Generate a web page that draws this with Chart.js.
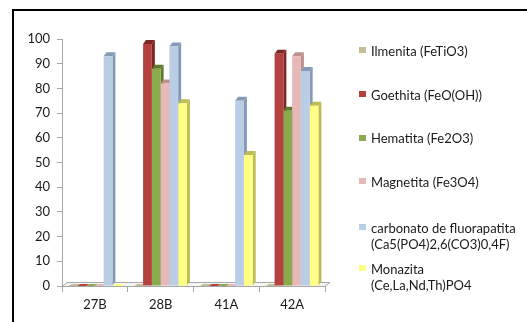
<!DOCTYPE html>
<html>
<head>
<meta charset="utf-8">
<script src="https://cdn.jsdelivr.net/npm/chart.js@4.4.0/dist/chart.umd.min.js"></script>
<style>
  html, body { margin: 0; padding: 0; background: #fff; overflow: hidden; }
  #wrap { position: relative; width: 527px; height: 322px; }
</style>
</head>
<body>
<div id="wrap"><canvas id="c" width="527" height="322"></canvas></div>
<script>
// Samples and mineral contents (%)
const categories = ['27B', '28B', '41A', '42A'];
const ilmenita   = [0, 0, 0, 0];
const goethita   = [0, 98, 0, 94];
const hematita   = [0, 88, 0, 71];
const magnetita  = [0, 82, 0, 93];
const carbonato  = [93, 97, 75, 87];
const monazita   = [0, 74, 53, 73];
const yTicks     = [0, 10, 20, 30, 40, 50, 60, 70, 80, 90, 100];

const seriesNames = [
  ['Ilmenita (FeTiO3)'],
  ['Goethita (FeO(OH))'],
  ['Hematita (Fe2O3)'],
  ['Magnetita (Fe3O4)'],
  ['carbonato de fluorapatita', '(Ca5(PO4)2,6(CO3)0,4F)'],
  ['Monazita', '(Ce,La,Nd,Th)PO4']
];
const seriesValues = [ilmenita, goethita, hematita, magnetita, carbonato, monazita];

// front face / side & top face colours
const palette = [
  { front: '#C4BD97', shade: '#958C62' },
  { front: '#B5413F', shade: '#7E2624' },
  { front: '#8BAA4D', shade: '#5E7A2C' },
  { front: '#E6B9B8', shade: '#BD8F8E' },
  { front: '#B9CDE5', shade: '#8399B6' },
  { front: '#FFFF85', shade: '#BDBD55' }
];

const FONT = 'Lato, "Liberation Sans", sans-serif';
const TEXT = '#1a1a1a';
const AXIS = '#A6A6A6';
const depth = { dx: 3, dy: 4 };

// outer frame
const frame = {
  id: 'frame',
  beforeDraw(chart) {
    const ctx = chart.ctx;
    ctx.save();
    ctx.fillStyle = '#fff';
    ctx.fillRect(0, 0, chart.width, chart.height);
    ctx.strokeStyle = '#000';
    ctx.lineWidth = 2;
    ctx.strokeRect(13, 10, 600, 400);
    ctx.restore();
  }
};

function poly(ctx, pts) {
  ctx.beginPath();
  ctx.moveTo(pts[0][0], pts[0][1]);
  for (let i = 1; i < pts.length; i++) ctx.lineTo(pts[i][0], pts[i][1]);
  ctx.closePath();
  ctx.fill();
}

// floor, plus side and top faces giving the columns depth
const faces = {
  id: 'faces',
  beforeDatasetsDraw(chart) {
    const ctx = chart.ctx;
    const a = chart.chartArea;
    const { dx, dy } = depth;
    ctx.save();
    ctx.fillStyle = '#F4F4F4';
    ctx.strokeStyle = AXIS;
    ctx.lineWidth = 1;
    ctx.beginPath();
    ctx.moveTo(a.left, a.bottom + 0.5);
    ctx.lineTo(a.left + dx + 2, a.bottom - dy + 0.5);
    ctx.lineTo(a.right + dx + 2, a.bottom - dy + 0.5);
    ctx.lineTo(a.right, a.bottom + 0.5);
    ctx.closePath();
    ctx.fill();
    ctx.stroke();

    const bars = [];
    chart.data.datasets.forEach((ds, i) => {
      chart.getDatasetMeta(i).data.forEach(el => {
        const p = el.getProps(['x', 'y', 'base', 'width'], true);
        bars.push({ p, c: palette[i] });
      });
    });
    bars.forEach(({ p, c }) => {
      if (p.base - p.y < 0.5) return;
      const r = p.x + p.width / 2;
      ctx.fillStyle = c.shade;
      poly(ctx, [[r, p.y], [r + dx, p.y - dy], [r + dx, p.base - dy], [r, p.base]]);
    });
    bars.forEach(({ p, c }) => {
      const l = p.x - p.width / 2, r = p.x + p.width / 2;
      const flat = p.base - p.y < 0.5;
      // columns at zero only leave a thin coloured patch on the floor
      ctx.fillStyle = flat ? c.front : c.shade;
      const h = flat ? 2 : dy;
      poly(ctx, [[l, p.y], [l + dx, p.y - h], [r + dx, p.y - h], [r, p.y]]);
    });
    ctx.restore();
  }
};

// legend at the right
const sideLegend = {
  id: 'sideLegend',
  afterDraw(chart) {
    const ctx = chart.ctx;
    const boxX = 359, textX = 371, box = 7, lineH = 16;
    const rowY = [50.5, 94.5, 138, 181.5, 227.5, 268.5];
    ctx.save();
    ctx.font = '13px ' + FONT;
    ctx.textBaseline = 'middle';
    ctx.textAlign = 'left';
    seriesNames.forEach((lines, i) => {
      const y = rowY[i];
      ctx.fillStyle = palette[i].front;
      ctx.fillRect(boxX, Math.round(y - box / 2), box, box - 1);
      ctx.fillStyle = TEXT;
      lines.forEach((t, k) => ctx.fillText(t, textX, y + 1 + k * lineH));
    });
    ctx.restore();
  }
};

new Chart(document.getElementById('c'), {
  type: 'bar',
  data: {
    labels: categories,
    datasets: seriesValues.map((vals, i) => ({
      label: seriesNames[i].join(' '),
      data: vals,
      backgroundColor: palette[i].front,
      borderWidth: 0,
      categoryPercentage: 0.8,
      barPercentage: 1.0
    }))
  },
  options: {
    responsive: false,
    animation: false,
    events: [],
    layout: { padding: { left: 0, top: 39, right: 202, bottom: 0 } },
    plugins: { legend: { display: false }, tooltip: { enabled: false } },
    scales: {
      x: {
        grid: { offset: true, drawOnChartArea: false, tickLength: 6, color: AXIS },
        border: { color: AXIS },
        ticks: { color: TEXT, font: { family: FONT, size: 13 }, padding: 5 },
        afterFit(s) { s.height = 36; }
      },
      y: {
        min: 0, max: 100,
        afterBuildTicks(s) { s.ticks = yTicks.map(v => ({ value: v })); },
        grid: { drawOnChartArea: false, tickLength: 5, color: AXIS },
        border: { color: AXIS },
        ticks: { color: TEXT, font: { family: FONT, size: 13 }, padding: 7 },
        afterFit(s) { s.width = 62; }
      }
    }
  },
  plugins: [frame, faces, sideLegend]
});
</script>
</body>
</html>
